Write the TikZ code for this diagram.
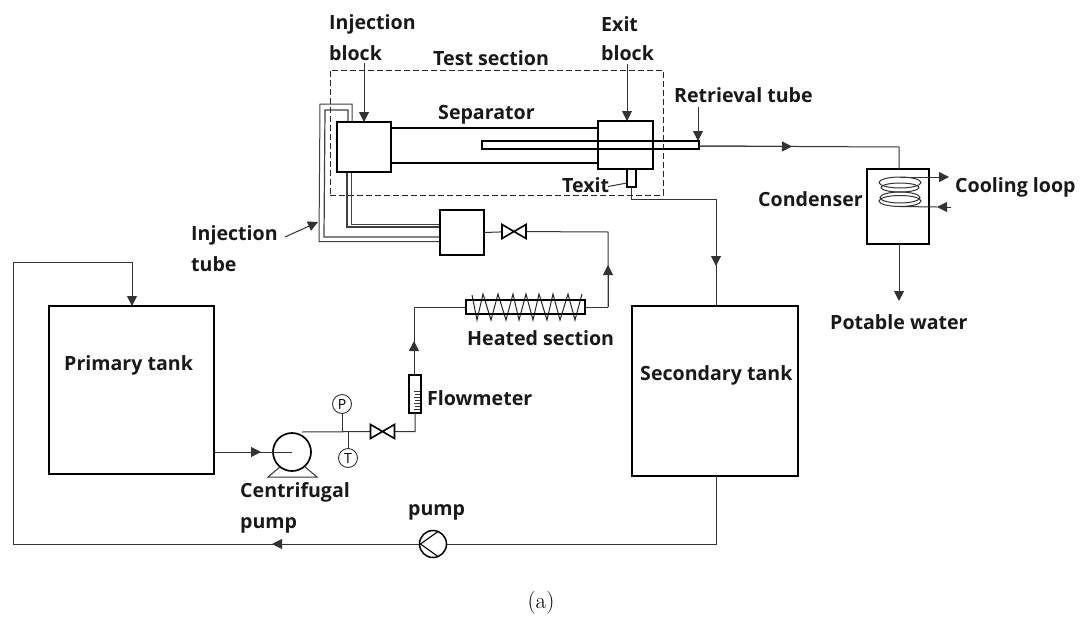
\documentclass[tikz,border=0pt]{standalone}
\usepackage{fontspec}
\setsansfont{Open Sans}
\usetikzlibrary{arrows.meta}
\tikzset{
  lbl/.style={font=\sffamily\bfseries\fontsize{19.6}{22}\selectfont,anchor=west,inner sep=0pt,text=black!90},
  box/.style={draw=black,line width=1.7pt,fill=white,inner sep=0pt,outer sep=0pt},
  pipe/.style={draw=black!80,line width=1pt},
  tube/.style={draw=black!75,line width=1pt},
  tip/.style={-{Triangle[length=10pt,width=10pt]}},
  gauge/.style={circle,draw=black!80,line width=0.9pt,fill=white,minimum size=19pt,inner sep=0pt,font=\sffamily\fontsize{14}{15}\selectfont},
  valve/.pic={\draw[line width=1.6pt,fill=white] (-12,-7) -- (12,7) -- (12,-7) -- (-12,7) -- cycle;}
}
\begin{document}
\begin{tikzpicture}[x=1pt,y=-1pt]
\useasboundingbox (0,0) rectangle (1080,627);
% coordinates
\coordinate (inA) at (364,63); \coordinate (inB) at (364,122);
\coordinate (exA) at (627,64); \coordinate (exB) at (627,121);
\coordinate (reA) at (698,107); \coordinate (reB) at (698,141);
\coordinate (itA) at (285,237); \coordinate (itB) at (318,222);
% test section
\node[draw=black!85,dash pattern=on 6pt off 3pt,line width=0.9pt,minimum width=333pt,minimum height=125pt,inner sep=0pt] (test) at (496.5,132.5) {};
% injection tube (behind blocks)
\coordinate (o1) at (440,241.5); \coordinate (o2) at (319,241.5); \coordinate (o3) at (320,104); \coordinate (o4) at (352,104); \coordinate (o5) at (352,122);
\coordinate (i1) at (440,237); \coordinate (i2) at (324,237); \coordinate (i3) at (325,110); \coordinate (i4) at (348,110); \coordinate (i5) at (348,122);
\draw[tube] (o1) -- (o2) -- (o3) -- (o4) -- (o5);
\draw[tube,line width=1.2pt] (i1) -- (i2) -- (i3) -- (i4) -- (i5);
\coordinate (b1) at (347,172); \coordinate (b2) at (347,227); \coordinate (b3) at (440,227);
\coordinate (c1) at (351,172); \coordinate (c2) at (351,224); \coordinate (c3) at (440,224);
\draw[tube,line width=1.2pt] (b1) -- (b2) -- (b3);
\draw[tube] (c1) -- (c2) -- (c3);
% separator
\draw[line width=1.7pt] (391,128) coordinate (s1) -- (598,128) coordinate (s2);
\draw[line width=1.7pt] (391,163) coordinate (s3) -- (598,163) coordinate (s4);
% blocks
\node[box,minimum width=54pt,minimum height=50pt] (injblock) at (364,147) {};
\node[box,minimum width=55pt,minimum height=48pt] (exitblock) at (625.5,145) {};
\node[box,minimum width=44pt,minimum height=45pt] (mixbox) at (462,232.5) {};
\node[box,fill=none,line width=1.6pt,minimum width=217pt,minimum height=8pt] (rtube) at (590.5,145) {};
\node[box,line width=1.4pt,minimum width=9pt,minimum height=18pt] (texit) at (631.5,178) {};
% tanks
\node[box,minimum width=165pt,minimum height=168pt] (primary) at (131.5,390) {};
\node[box,minimum width=166pt,minimum height=170pt] (secondary) at (715,391) {};
\node[box,minimum width=62pt,minimum height=75pt] (condenser) at (898,206.5) {};
% label arrows
\draw[pipe,tip] (inA) -- (inB);
\draw[pipe,tip] (exA) -- (exB);
\draw[pipe,tip] (reA) -- (reB);
\draw[pipe,tip] (itA) -- (itB);
% retrieval to condenser
\coordinate (r1) at (699,146); \coordinate (r2) at (792,146.5); \coordinate (r3) at (899,147); \coordinate (r4) at (899,169);
\draw[pipe] (r1) -- (r3) -- (r4);
\draw[pipe,tip] (r1) -- (r2);
% coil
\draw[black!80,line width=1pt] (900,182.5) ellipse[x radius=21,y radius=5.5];
\draw[black!80,line width=1pt] (900,187.5) ellipse[x radius=19,y radius=4.5];
\draw[black!80,line width=1pt] (900,197.5) ellipse[x radius=20,y radius=5.5];
\draw[black!80,line width=1pt] (900,201) ellipse[x radius=21,y radius=5.5];
\coordinate (cw1) at (900,177); \coordinate (cw2) at (949,177);
\coordinate (cw3) at (951,207); \coordinate (cw4) at (937,207); \coordinate (cw5) at (900,206.5);
\draw[pipe,tip] (cw1) -- (cw2);
\draw[pipe,tip] (cw3) -- (cw4);
\draw[pipe] (cw4) -- (cw5);
% potable
\coordinate (p1) at (899,244); \coordinate (p2) at (899,301);
\draw[pipe,tip] (p1) -- (p2);
% exit pipe
\coordinate (e1) at (631,187); \coordinate (e2) at (631,199.5); \coordinate (e3) at (716,199.5); \coordinate (e4) at (716,306); \coordinate (e5) at (716,266);
\draw[pipe] (e1) -- (e2) -- (e3) -- (e4);
\draw[pipe,tip] (e3) -- (e5);
% texit leader
\coordinate (tl) at (608,186.5); \coordinate (tr) at (627,183);
\draw[pipe] (tl) -- (tr);
% valve 1 line
\coordinate (v1a) at (484,232.5); \coordinate (v1) at (514,231.5); \coordinate (v1b) at (608,232); \coordinate (v1c) at (608,307); \coordinate (v1d) at (608,265);
\draw[pipe] (v1a) -- (v1) -- (v1b) -- (v1c);
\draw[pipe,tip] (v1c) -- (v1d);
\pic at (v1) {valve};
% heated section
\coordinate (h1) at (585,307); \coordinate (h2) at (466,307);
\draw[pipe] (h1) -- (v1c);
\draw[black!85,line width=1pt] (472,295) -- (477,320) -- (483,294) -- (491,320) -- (498,294) -- (506,320) -- (513,294) -- (519,320) -- (526,294) -- (533,320) -- (539,294) -- (547,320) -- (553,294) -- (560,320) -- (568,294) -- (575,320) -- (582,294);
\node[box,fill=none,line width=1.6pt,minimum width=119pt,minimum height=14pt] (heater) at (525.5,307) {};
% flowmeter
\coordinate (f1) at (414,307); \coordinate (f2) at (414,375); \coordinate (f3) at (414,341);
\draw[pipe] (heater.west) -- (f1) -- (f2);
\draw[pipe,tip] (f2) -- (f3);
\node[box,line width=1.4pt,minimum width=12pt,minimum height=38pt] (flow) at (415,394) {};
\foreach \y/\l in {391/6,394/5,397/6,400/5,403/6,406/5,409/6} \draw[black!80,line width=0.7pt] (420,\y) -- ++(-\l,0);
% pump line
\coordinate (g1) at (415,413); \coordinate (g2) at (415,431.5); \coordinate (v2) at (382.5,431.5); \coordinate (g3) at (302,432);
\draw[pipe] (g1) -- (g2) -- (v2) -- (g3);
\pic at (v2) {valve};
% gauges
\node[gauge] (P) at (342,404) {P};
\node[gauge] (T) at (348,458) {T};
\coordinate (gp) at (342,432); \coordinate (gt) at (348,432);
\draw[pipe] (P) -- (gp);
\draw[pipe] (T) -- (gt);
% centrifugal pump
\coordinate (st1) at (268,477); \coordinate (st2) at (317,477); \coordinate (st3) at (281,466); \coordinate (st4) at (304,466);
\draw[pipe] (st3) -- (st1) -- (st2) -- (st4);
\node[circle,draw=black,line width=1.7pt,minimum size=38pt,inner sep=0pt,fill=white] (cpump) at (292,452) {};
\coordinate (pi1) at (214,452); \coordinate (pi2) at (292,452); \coordinate (pi3) at (261,452);
\draw[pipe] (pi1) -- (pi2);
\draw[pipe,tip] (pi1) -- (pi3);
% return loop
\coordinate (l1) at (716,476); \coordinate (l2) at (716,544); \coordinate (l3) at (13,544); \coordinate (l4) at (13,262); \coordinate (l5) at (132,262); \coordinate (l6) at (132,306); \coordinate (l7) at (272,544);
\draw[pipe] (l1) -- (l2) -- (l3) -- (l4) -- (l5);
\draw[pipe,tip] (l5) -- (l6);
\draw[pipe,tip] (l2) -- (l7);
\node[circle,draw=black,line width=1.5pt,minimum size=27pt,inner sep=0pt,fill=white] (rpump) at (433,544) {};
\draw[line width=1.1pt] (438,531.5) -- (420.5,544) -- (438,556.5);
% labels
\node[lbl] (tinj1) at (329,24) {Injection};
\node[lbl] (tinj2) at (329,53) {block};
\node[lbl] (tex1) at (601,24) {Exit};
\node[lbl] (tex2) at (601,53) {block};
\node[lbl] (ttest) at (433,58) {Test section};
\node[lbl] (tsep) at (438,115) {Separator};
\node[lbl] (tret) at (674,95) {Retrieval tube};
\node[lbl] (ttexit) at (562,185) {Texit};
\node[lbl] (tcond) at (758,199) {Condenser};
\node[lbl] (tcool) at (955,187) {Cooling loop};
\node[lbl] (tpot) at (830,322) {Potable water};
\node[lbl] (theat) at (467,338) {Heated section};
\node[lbl] (tflow) at (427,398) {Flowmeter};
\node[lbl] (tcen1) at (240,492) {Centrifugal};
\node[lbl] (tcen2) at (240,525) {pump};
\node[lbl] (tpump) at (408,512) {pump};
\node[lbl] (tit1) at (191,235) {Injection};
\node[lbl] (tit2) at (191,264) {tube};
\node[lbl] (tprim) at (64,365) {Primary tank};
\node[lbl] (tsec) at (640,375) {Secondary tank};
\node[font=\fontsize{23}{25}\selectfont,inner sep=0pt] (cap) at (541,603) {(a)};
\end{tikzpicture}
\end{document}
